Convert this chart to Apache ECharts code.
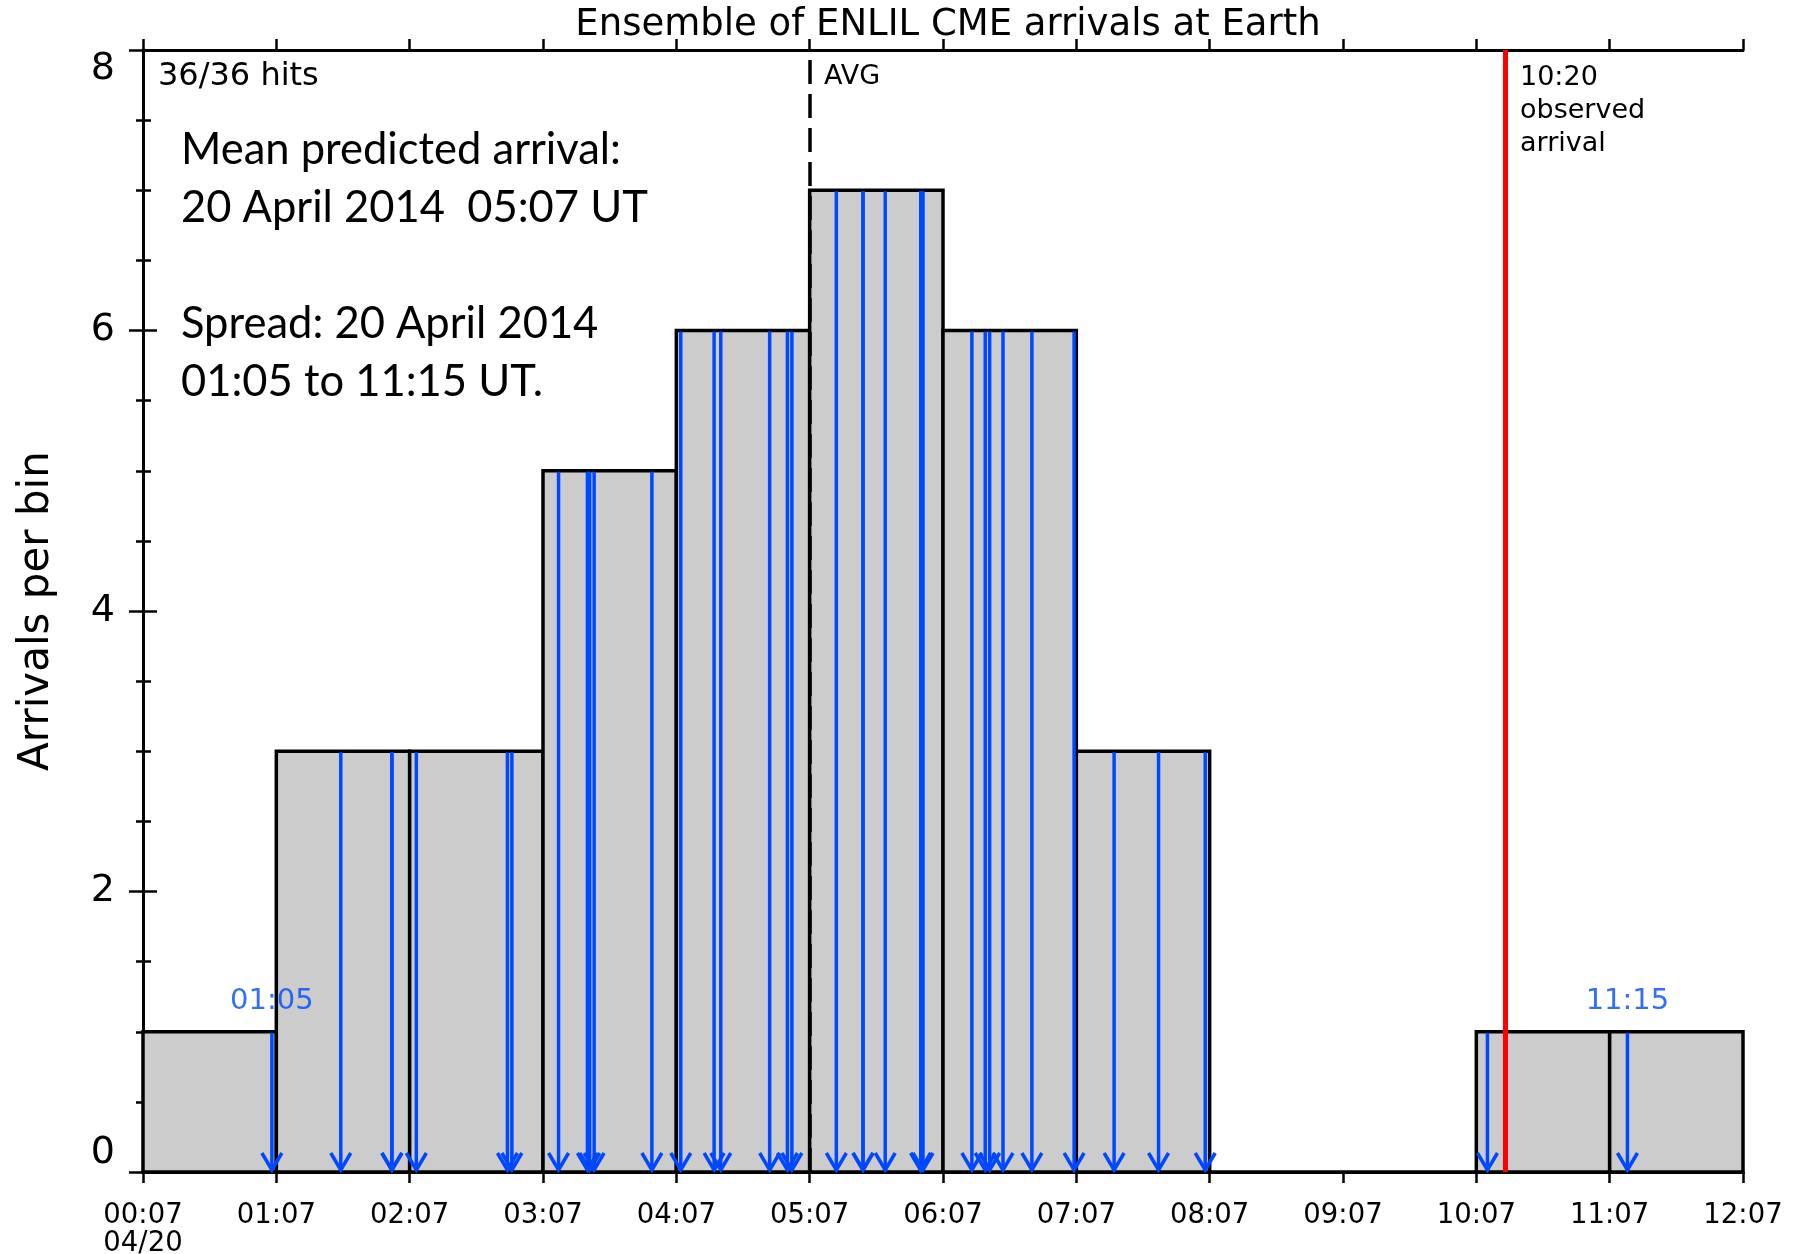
<!DOCTYPE html>
<html>
<head>
<meta charset="utf-8">
<script src="https://cdn.jsdelivr.net/npm/echarts@6/dist/echarts.min.js"></script>
<style>
  html, body { margin: 0; padding: 0; background: #fff; }
  #chart_arrivals { width: 1798px; height: 1254px; }
</style>
</head>
<body>
<div id="chart_arrivals"></div>
<script>
// hour ticks, counted from 00:07 on 04/20
var tickLabels = ['00:07','01:07','02:07','03:07','04:07','05:07','06:07','07:07','08:07','09:07','10:07','11:07','12:07'];
var dateLabel = '04/20';

// arrivals per one-hour bin
var binCounts = [1, 3, 3, 5, 6, 7, 6, 3, 0, 0, 1, 1];

// predicted arrival time of each ensemble member (UT)
var arrivalTimes = [
  '01:05','01:36','01:59','01:59','02:10','02:51','02:53','03:14','03:27','03:28',
  '03:30','03:56','04:09','04:24','04:27','04:49','04:57','04:59','05:19','05:31',
  '05:31','05:41','05:57','05:57','05:58','06:20','06:26','06:28','06:34','06:47',
  '07:06','07:24','07:44','08:05','10:12','11:15'
];

var spreadEnds = ['01:05', '11:15'];
var avgTime = '05:07';
var observedTime = '10:20';

var blue = '#0048ff';
var axisFont = 'DejaVu Sans';

function toHours(s) {
  var p = s.split(':');
  return (parseInt(p[0], 10) * 60 + parseInt(p[1], 10) - 7) / 60;
}

function binOf(t) {
  return Math.min(binCounts.length - 1, Math.floor(t));
}

var barData = binCounts.map(function (c, i) { return [i, i + 1, c]; });
var arrowData = arrivalTimes.map(function (s) {
  var t = toHours(s);
  return [t, binCounts[binOf(t)]];
});
var endData = spreadEnds.map(function (s) {
  var t = toHours(s);
  return [t, binCounts[binOf(t)]];
});

var chart = echarts.init(document.getElementById('chart_arrivals'));

var xCommon = {
  type: 'value', min: 0, max: 12, interval: 1,
  axisLine: { show: true, onZero: false, lineStyle: { color: '#000', width: 3 } },
  axisTick: { show: true, inside: false, length: 11, lineStyle: { color: '#000', width: 2.5 } },
  splitLine: { show: false }
};
var yCommon = {
  type: 'value', min: 0, max: 8, interval: 2,
  axisLine: { show: true, lineStyle: { color: '#000', width: 3 } },
  axisTick: { show: true, inside: false, length: 14, lineStyle: { color: '#000', width: 2.5 } },
  minorTick: { show: true, splitNumber: 4, length: 7, lineStyle: { color: '#000', width: 2.5 } },
  splitLine: { show: false },
  minorSplitLine: { show: false }
};

var option = {
  animation: false,
  backgroundColor: '#fff',
  title: {
    text: 'Ensemble of ENLIL CME arrivals at Earth',
    left: 943, top: 2, textAlign: 'center',
    textStyle: { fontFamily: axisFont, fontSize: 37, fontWeight: 'normal', color: '#000' }
  },
  grid: { left: 143, right: 55, top: 50, bottom: 82, containLabel: false, outerBoundsMode: 'none' },
  xAxis: [
    Object.assign({}, xCommon, {
      position: 'bottom',
      axisLabel: {
        margin: 30, color: '#000', fontFamily: axisFont, fontSize: 27.5, lineHeight: 28,
        formatter: function (v) {
          var lab = tickLabels[Math.round(v)];
          return v === 0 ? lab + '\n' + dateLabel : lab;
        }
      }
    }),
    Object.assign({}, xCommon, { position: 'top', axisLabel: { show: false } })
  ],
  yAxis: [
    Object.assign({}, yCommon, {
      position: 'left',
      name: 'Arrivals per bin',
      nameLocation: 'middle',
      nameGap: 85,
      nameTextStyle: { fontFamily: axisFont, fontSize: 42, color: '#000' },
      axisLabel: {
        margin: 28, color: '#000', fontFamily: axisFont, fontSize: 38,
        verticalAlignMinLabel: 'bottom', verticalAlignMaxLabel: 'top'
      }
    }),
    Object.assign({}, yCommon, { position: 'right', axisLabel: { show: false },
      minorTick: { show: true, splitNumber: 4, length: 8, lineStyle: { color: '#000', width: 2.5 } } })
  ],
  series: [
    {
      type: 'custom',
      name: 'bins',
      z: 2,
      encode: { x: [0, 1], y: 2 },
      data: barData,
      renderItem: function (params, api) {
        var p0 = api.coord([api.value(0), 0]);
        var p1 = api.coord([api.value(1), api.value(2)]);
        return {
          type: 'rect',
          shape: { x: p0[0], y: p1[1], width: p1[0] - p0[0], height: p0[1] - p1[1] },
          style: { fill: '#cccccc', stroke: '#000', lineWidth: 3.5 }
        };
      }
    },
    {
      type: 'custom',
      name: 'arrivals',
      z: 3,
      encode: { x: 0, y: 1 },
      data: arrowData,
      renderItem: function (params, api) {
        var top = api.coord([api.value(0), api.value(1)]);
        var bot = api.coord([api.value(0), 0]);
        var x = bot[0], y = bot[1] - 2;
        return {
          type: 'group',
          children: [
            { type: 'line', shape: { x1: x, y1: top[1] + 1, x2: x, y2: y },
              style: { stroke: blue, lineWidth: 3.5 } },
            { type: 'polyline', shape: { points: [[x - 10, y - 17], [x, y], [x + 10, y - 17]] },
              style: { stroke: blue, lineWidth: 3.5, fill: null } }
          ]
        };
      }
    },
    {
      type: 'scatter',
      name: 'spread',
      z: 4,
      symbolSize: 0,
      data: endData,
      label: {
        show: true, position: 'top', distance: 16,
        color: blue, fontFamily: axisFont, fontSize: 29,
        formatter: function (p) { return spreadEnds[p.dataIndex]; }
      }
    },
    {
      type: 'line',
      name: 'markers',
      z: 5,
      data: [],
      markLine: {
        silent: true,
        symbol: ['none', 'none'],
        label: { show: false },
        data: [
          { xAxis: toHours(avgTime), lineStyle: { color: '#000', width: 3.5, type: [24, 10] } },
          { xAxis: toHours(observedTime), lineStyle: { color: '#ff0000', width: 5, type: 'solid' } }
        ]
      }
    }
  ],
  graphic: [
    { type: 'text', left: 158, top: 61,
      style: { text: '36/36 hits', font: '32px "DejaVu Sans"', fill: '#000' } },
    { type: 'text', left: 824, top: 63,
      style: { text: 'AVG', font: '27px "DejaVu Sans"', fill: '#000' } },
    { type: 'text', left: 1520, top: 61,
      style: { text: observedTime + '\nobserved\narrival', font: '27px "DejaVu Sans"', lineHeight: 33, fill: '#000' } },
    { type: 'text', left: 181, top: 121,
      style: {
        text: 'Mean predicted arrival:\n20 April 2014  05:07 UT\n\nSpread: 20 April 2014\n01:05 to 11:15 UT.',
        font: '43.5px Lato', lineHeight: 58, fill: '#000'
      } }
  ]
};

chart.setOption(option);
</script>
</body>
</html>
